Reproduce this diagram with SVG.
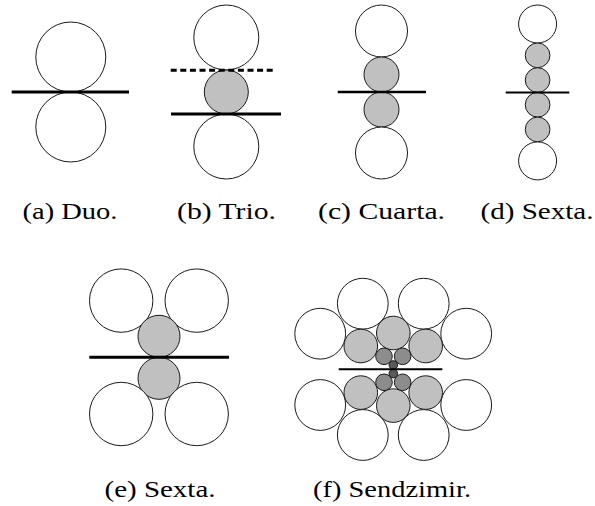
<svg xmlns="http://www.w3.org/2000/svg" width="595" height="506" viewBox="0 0 595 506">
<style>
.w{fill:#fff;stroke:#1a1a1a;stroke-width:1}
.g{fill:#c0c0c0;stroke:#1a1a1a;stroke-width:1}
.m{fill:#8c8c8c;stroke:#1a1a1a;stroke-width:1}
.d{fill:#5a5a5a;stroke:#1a1a1a;stroke-width:1}
.s{stroke:#000;fill:none}
.t{font-family:"Liberation Serif","DejaVu Serif",serif;font-size:24px;fill:#000;text-anchor:middle}
</style>
<rect width="595" height="506" fill="#fff"/>
<g id="duo">
<circle class="w" cx="70.8" cy="57" r="35"/>
<circle class="w" cx="70.8" cy="127" r="35"/>
<line class="s" x1="11.7" y1="92" x2="129" y2="92" stroke-width="3"/>
<text class="t" x="70" y="219" textLength="95" lengthAdjust="spacingAndGlyphs">(a) Duo.</text>
</g>
<g id="trio">
<circle class="w" cx="226.3" cy="37.5" r="32.5"/>
<circle class="g" cx="226.3" cy="92" r="22"/>
<circle class="w" cx="226.3" cy="146.5" r="32.5"/>
<line class="s" x1="170.7" y1="70.3" x2="276" y2="70.3" stroke-width="3" stroke-dasharray="6 3.6"/>
<line class="s" x1="171" y1="114" x2="281" y2="114" stroke-width="3"/>
<text class="t" x="226.5" y="219" textLength="99" lengthAdjust="spacingAndGlyphs">(b) Trio.</text>
</g>
<g id="cuarta">
<circle class="w" cx="381.5" cy="31" r="26"/>
<circle class="g" cx="381.5" cy="74.5" r="17.5"/>
<circle class="g" cx="381.5" cy="109.5" r="17.5"/>
<circle class="w" cx="381.5" cy="153" r="26"/>
<line class="s" x1="337.7" y1="92" x2="426" y2="92" stroke-width="2.5"/>
<text class="t" x="381.5" y="219" textLength="127" lengthAdjust="spacingAndGlyphs">(c) Cuarta.</text>
</g>
<g id="sexta-d">
<circle class="w" cx="537.6" cy="24" r="19"/>
<circle class="g" cx="537.6" cy="55.35" r="12.35"/>
<circle class="g" cx="537.6" cy="80.05" r="12.35"/>
<circle class="g" cx="537.6" cy="104.75" r="12.35"/>
<circle class="g" cx="537.6" cy="129.45" r="12.35"/>
<circle class="w" cx="537.6" cy="160.9" r="19"/>
<line class="s" x1="505.7" y1="92.4" x2="569.3" y2="92.4" stroke-width="2"/>
<text class="t" x="537" y="219" textLength="113" lengthAdjust="spacingAndGlyphs">(d) Sexta.</text>
</g>
<g id="sexta-e">
<circle class="w" cx="121.2" cy="300.6" r="31.7"/>
<circle class="w" cx="196.7" cy="300.6" r="31.7"/>
<circle class="g" cx="159" cy="336.3" r="21"/>
<circle class="g" cx="159" cy="378.3" r="21"/>
<circle class="w" cx="121.2" cy="414" r="31.7"/>
<circle class="w" cx="196.7" cy="414" r="31.7"/>
<line class="s" x1="89.3" y1="357.3" x2="229" y2="357.3" stroke-width="3"/>
<text class="t" x="160" y="497" textLength="111" lengthAdjust="spacingAndGlyphs">(e) Sexta.</text>
</g>
<g id="sendzimir">
<circle class="w" cx="362.8" cy="303.7" r="25.4"/>
<circle class="w" cx="423.7" cy="303.7" r="25.4"/>
<circle class="w" cx="320.2" cy="333.7" r="25.4"/>
<circle class="w" cx="466.2" cy="333.7" r="25.4"/>
<circle class="w" cx="362.8" cy="435" r="25.4"/>
<circle class="w" cx="423.7" cy="435" r="25.4"/>
<circle class="w" cx="320.2" cy="405" r="25.4"/>
<circle class="w" cx="466.2" cy="405" r="25.4"/>
<circle class="g" cx="393.3" cy="333" r="16.8"/>
<circle class="g" cx="360.8" cy="346" r="16.8"/>
<circle class="g" cx="425.7" cy="346" r="16.8"/>
<circle class="g" cx="393.3" cy="405.6" r="16.8"/>
<circle class="g" cx="360.8" cy="392.6" r="16.8"/>
<circle class="g" cx="425.7" cy="392.6" r="16.8"/>
<circle class="m" cx="384" cy="356.3" r="8.3"/>
<circle class="m" cx="402.6" cy="356.3" r="8.3"/>
<circle class="m" cx="384" cy="382.3" r="8.3"/>
<circle class="m" cx="402.6" cy="382.3" r="8.3"/>
<circle class="d" cx="393.3" cy="365" r="4.3"/>
<circle class="d" cx="393.3" cy="373.6" r="4.3"/>
<line class="s" x1="338.7" y1="369.3" x2="442.3" y2="369.3" stroke-width="2"/>
<text class="t" x="392" y="497" textLength="158" lengthAdjust="spacingAndGlyphs">(f) Sendzimir.</text>
</g>
</svg>
